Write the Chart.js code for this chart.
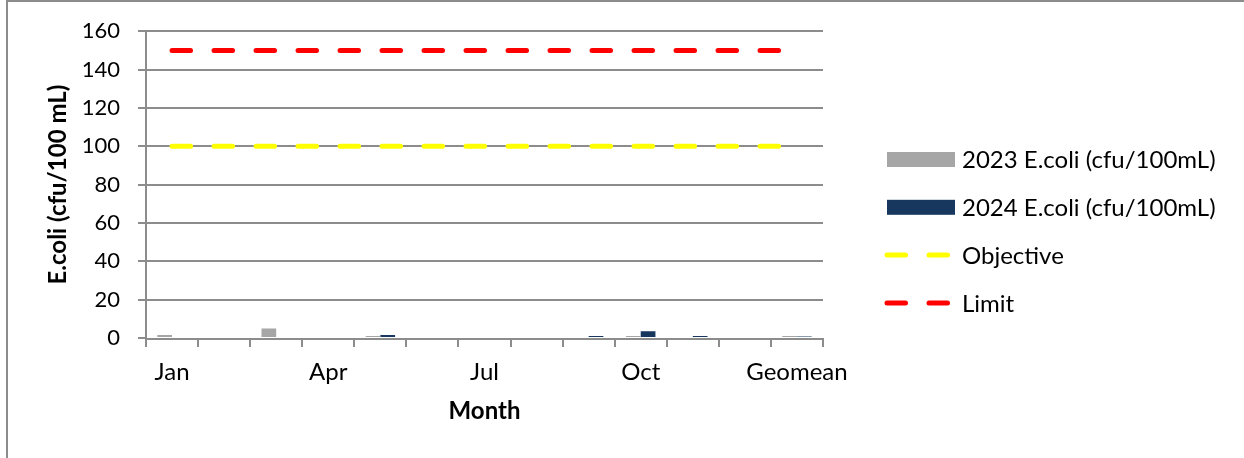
<!DOCTYPE html>
<html><head><meta charset="utf-8">
<script src="https://cdn.jsdelivr.net/npm/chart.js@4/dist/chart.umd.min.js"></script>
<style>html,body{margin:0;padding:0;background:#fff;overflow:hidden}#wrap{position:relative;width:1244px;height:458px}</style>
</head><body><div id="wrap"><canvas id="c" width="1244" height="458" style="width:1244px;height:458px"></canvas></div>
<script>
const months = ['Jan','Feb','Mar','Apr','May','Jun','Jul','Aug','Sep','Oct','Nov','Dec','Geomean'];
const ecoli2023 = [1.5, 0.5, 5, 0.5, 1, 0.5, 0.5, 0.5, 0.5, 1, 0.5, 0.5, 1];
const ecoli2024 = [0.5, 0.5, 0.5, 0.5, 1.5, 0.5, 0.5, 0.5, 1, 3.5, 1, 0.5, 0.8];
const objective = [100, 100, 100, 100, 100, 100, 100, 100, 100, 100, 100, 100, 100];
const limit = [150, 150, 150, 150, 150, 150, 150, 150, 150, 150, 150, 150, 150];
const seriesNames = ['2023 E.coli (cfu/100mL)', '2024 E.coli (cfu/100mL)', 'Objective', 'Limit'];
const yAxisTitle = 'E.coli (cfu/100 mL)';
const xAxisTitle = 'Month';

const FONT = 'Lato, "Open Sans", sans-serif';
const GRID = '#8c8c8c';

const frame = {
  id: 'frame',
  beforeDraw(chart) {
    const ctx = chart.ctx;
    ctx.save();
    ctx.fillStyle = '#fff';
    ctx.fillRect(0, 0, chart.width, chart.height);
    ctx.strokeStyle = '#8c8c8c';
    ctx.lineWidth = 2;
    ctx.beginPath();
    ctx.moveTo(7, chart.height);
    ctx.lineTo(7, 1);
    ctx.lineTo(chart.width, 1);
    ctx.stroke();
    ctx.restore();
  },
  beforeDatasetsDraw(chart) {
    // category axis line sits just under the zero level, as in the original
    const ctx = chart.ctx;
    const y0 = chart.scales.y.getPixelForValue(0) + 1;
    ctx.save();
    ctx.strokeStyle = GRID;
    ctx.lineWidth = 2;
    ctx.beginPath();
    ctx.moveTo(chart.chartArea.left - 1, y0);
    ctx.lineTo(chart.chartArea.right + 1, y0);
    ctx.stroke();
    ctx.restore();
  }
};

const sideLegend = {
  id: 'sideLegend',
  afterDraw(chart) {
    const ctx = chart.ctx;
    const x0 = chart.chartArea.right + 64;
    const y0 = 159.5, step = 47.8, boxW = 68, boxH = 15;
    chart.data.datasets.forEach((ds, i) => {
      const y = y0 + i * step;
      ctx.save();
      if (ds.type === 'line') {
        ctx.strokeStyle = ds.borderColor;
        ctx.lineWidth = ds.borderWidth;
        ctx.setLineDash(ds.borderDash);
        ctx.lineCap = 'round';
        ctx.beginPath();
        ctx.moveTo(x0, y);
        ctx.lineTo(x0 + boxW, y);
        ctx.stroke();
      } else {
        ctx.fillStyle = ds.backgroundColor;
        ctx.fillRect(x0, y - boxH / 2, boxW, boxH);
      }
      ctx.setLineDash([]);
      ctx.fillStyle = '#000';
      ctx.font = '24px ' + FONT;
      ctx.textBaseline = 'middle';
      ctx.textAlign = 'left';
      ctx.fillText(ds.label, x0 + 75, y + 1);
      ctx.restore();
    });
  }
};

function build() {
new Chart(document.getElementById('c'), {
  type: 'bar',
  data: {
    labels: months,
    datasets: [
      { label: seriesNames[0], data: ecoli2023, backgroundColor: '#a6a6a6', borderWidth: 0,
        barPercentage: 1, categoryPercentage: 0.565 },
      { label: seriesNames[1], data: ecoli2024, backgroundColor: '#17375e', borderWidth: 0,
        barPercentage: 1, categoryPercentage: 0.565 },
      { type: 'line', label: seriesNames[2], data: objective, borderColor: '#ffff00', backgroundColor: '#ffff00',
        borderWidth: 5, borderDash: [18.5, 23.5], borderCapStyle: 'round', pointRadius: 0 },
      { type: 'line', label: seriesNames[3], data: limit, borderColor: '#ff0000', backgroundColor: '#ff0000',
        borderWidth: 5, borderDash: [18.5, 23.5], borderCapStyle: 'round', pointRadius: 0 }
    ]
  },
  options: {
    responsive: false,
    maintainAspectRatio: false,
    animation: false,
    devicePixelRatio: 1,
    layout: { padding: { top: 31, right: 421, bottom: 32, left: 44 } },
    plugins: {
      tooltip: { enabled: false },
      legend: { display: false }
    },
    scales: {
      x: {
        offset: true,
        grid: { display: true, drawOnChartArea: false, drawTicks: true, tickLength: 9, color: GRID, lineWidth: 2, offset: true },
        border: { display: false },
        ticks: {
          autoSkip: false, maxRotation: 0, color: '#000', padding: 11,
          font: { family: FONT, size: 24 },
          callback: function (v, i) { return i % 3 === 0 ? months[i] : ''; }
        },
        title: { display: true, text: xAxisTitle, color: '#000', font: { family: FONT, size: 24, weight: 'bold' }, padding: { top: 0, bottom: 0 } },
        afterFit: function (s) { s.height = 88; }
      },
      y: {
        min: 0, max: 160,
        grid: {
          color: function (c) { return c.tick && c.tick.value === 0 ? 'rgba(0,0,0,0)' : GRID; },
          tickColor: GRID, lineWidth: 2, tickLength: 8
        },
        border: { display: true, color: GRID, width: 2 },
        ticks: { stepSize: 20, color: '#000', padding: 18, font: { family: FONT, size: 22 } },
        title: { display: true, text: yAxisTitle, color: '#000', font: { family: FONT, size: 24, weight: 'bold' }, padding: { top: 0, bottom: 0 } },
        afterFit: function (s) { s.width = 102; }
      }
    }
  },
  plugins: [frame, sideLegend]
});
}
if (document.fonts && document.fonts.load) {
  Promise.all([document.fonts.load('24px Lato'), document.fonts.load('bold 24px Lato')]).then(build, build);
} else { build(); }
</script></body></html>
